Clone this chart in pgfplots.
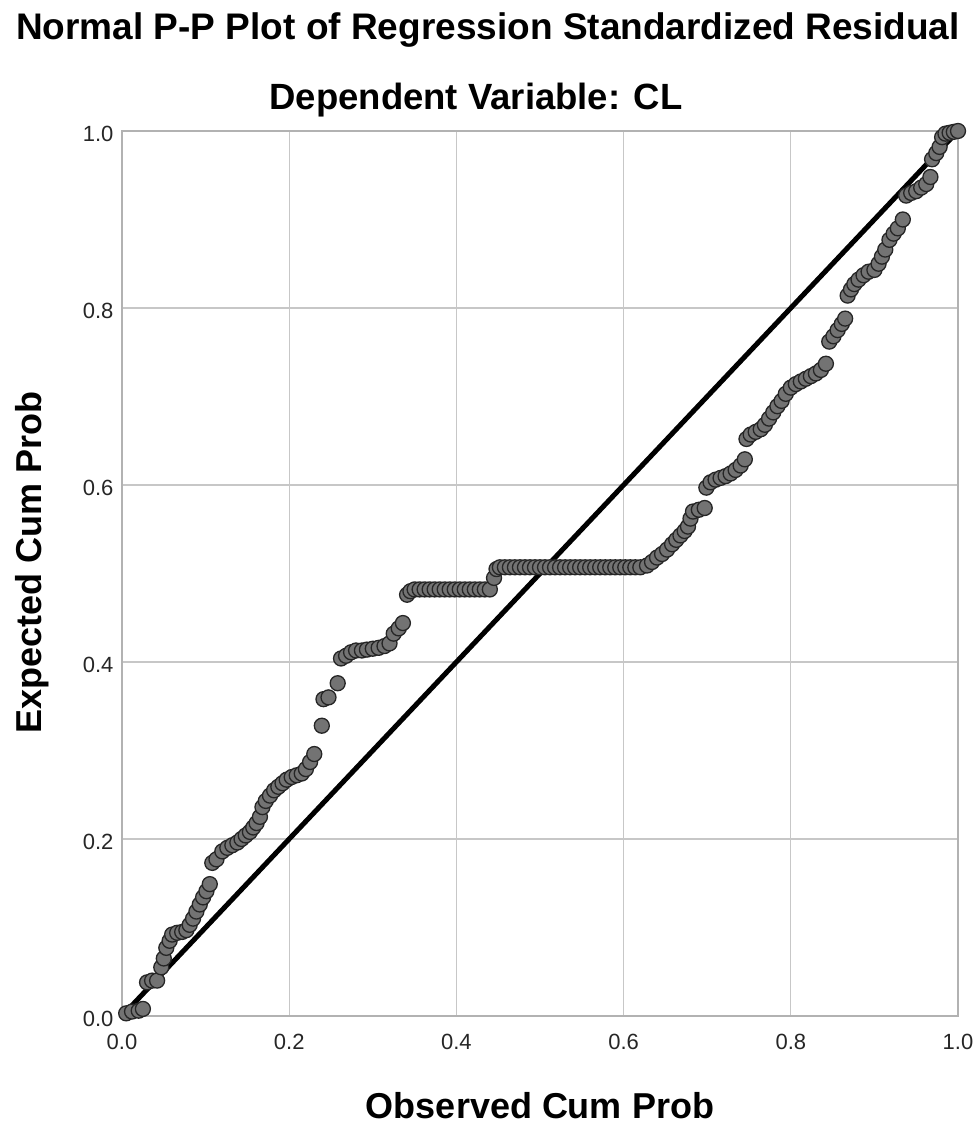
\documentclass[border=0pt]{standalone}
\usepackage{fontspec}
\setmainfont{Liberation Sans}
\usepackage{pgfplots}
\pgfplotsset{compat=1.18}
\begin{document}
\begin{tikzpicture}
\begin{axis}[
  scale only axis, width=836pt, height=885pt,
  xmin=0, xmax=1, ymin=0, ymax=1,
  xtick={0,0.2,0.4,0.6,0.8,1}, ytick={0,0.2,0.4,0.6,0.8,1},
  /pgf/number format/assume math mode=true,
  /pgf/number format/.cd, fixed, fixed zerofill, precision=1, /pgfplots/.cd,
  grid=major, major grid style={draw=black!22, line width=1.3pt},
  axis line style={draw=black!30, line width=1.3pt},
  major tick length=0pt,
  ticklabel style={font=\fontsize{22}{22}\selectfont, text=black!85},
  xticklabel style={anchor=center, yshift=-26pt},
  yticklabel style={xshift=-5pt, yshift=-3pt},
]
\addplot[only marks, mark=*, mark size=7.5pt, mark options={fill=black!55, draw=black!85, line width=1.3pt}] table {
x y
0.005 0.003
0.012 0.005
0.020 0.006
0.025 0.008
0.030 0.038
0.036 0.040
0.042 0.040
0.047 0.055
0.050 0.065
0.053 0.077
0.057 0.085
0.060 0.092
0.066 0.094
0.072 0.095
0.077 0.097
0.081 0.103
0.085 0.110
0.089 0.118
0.093 0.126
0.097 0.134
0.101 0.141
0.105 0.149
0.108 0.173
0.113 0.177
0.120 0.186
0.126 0.190
0.132 0.193
0.138 0.196
0.143 0.200
0.148 0.204
0.153 0.208
0.157 0.213
0.161 0.218
0.165 0.225
0.168 0.236
0.172 0.243
0.177 0.249
0.182 0.255
0.187 0.259
0.192 0.263
0.197 0.267
0.203 0.270
0.209 0.272
0.215 0.274
0.220 0.279
0.225 0.287
0.230 0.296
0.239 0.328
0.241 0.358
0.247 0.360
0.258 0.376
0.262 0.404
0.268 0.407
0.274 0.411
0.280 0.413
0.287 0.413
0.293 0.414
0.300 0.415
0.307 0.416
0.314 0.418
0.320 0.421
0.325 0.432
0.331 0.438
0.336 0.444
0.341 0.476
0.345 0.480
0.350 0.482
0.356 0.482
0.362 0.482
0.368 0.482
0.374 0.482
0.380 0.482
0.386 0.482
0.392 0.482
0.398 0.482
0.404 0.482
0.410 0.482
0.416 0.482
0.422 0.482
0.428 0.482
0.434 0.482
0.440 0.482
0.445 0.495
0.448 0.505
0.452 0.507
0.458 0.507
0.464 0.507
0.470 0.507
0.476 0.507
0.482 0.507
0.488 0.507
0.494 0.507
0.500 0.507
0.506 0.507
0.512 0.507
0.518 0.507
0.524 0.507
0.530 0.507
0.536 0.507
0.542 0.507
0.548 0.507
0.554 0.507
0.560 0.507
0.566 0.507
0.572 0.507
0.578 0.507
0.584 0.507
0.590 0.507
0.596 0.507
0.602 0.507
0.608 0.507
0.614 0.507
0.620 0.507
0.628 0.509
0.634 0.513
0.640 0.518
0.646 0.522
0.652 0.527
0.658 0.533
0.663 0.538
0.668 0.543
0.673 0.548
0.677 0.553
0.680 0.562
0.683 0.570
0.690 0.572
0.697 0.574
0.699 0.597
0.704 0.603
0.710 0.606
0.716 0.608
0.722 0.610
0.728 0.613
0.734 0.617
0.740 0.622
0.745 0.629
0.747 0.652
0.752 0.657
0.758 0.660
0.764 0.663
0.769 0.668
0.774 0.675
0.779 0.682
0.784 0.689
0.789 0.695
0.794 0.703
0.800 0.710
0.806 0.714
0.812 0.717
0.818 0.720
0.824 0.723
0.830 0.726
0.836 0.730
0.842 0.737
0.846 0.762
0.851 0.768
0.856 0.775
0.861 0.782
0.865 0.788
0.868 0.814
0.872 0.821
0.876 0.827
0.881 0.832
0.887 0.837
0.893 0.841
0.900 0.843
0.905 0.850
0.909 0.858
0.913 0.866
0.918 0.877
0.923 0.884
0.928 0.890
0.934 0.900
0.938 0.927
0.944 0.930
0.950 0.932
0.956 0.936
0.962 0.940
0.967 0.948
0.969 0.968
0.974 0.975
0.978 0.982
0.981 0.993
0.985 0.997
0.990 0.998
0.995 0.999
1.000 1.000
};
\addplot[black, line width=5pt] coordinates {(0,0) (1,1)};
\end{axis}
\node[font=\bfseries\fontsize{37}{37}\selectfont, anchor=base] at ([xshift=-52pt, yshift=91pt]current axis.north) {Normal P-P Plot of Regression Standardized Residual};
\node[font=\bfseries\fontsize{36.5}{36.5}\selectfont, anchor=base] at ([xshift=-64pt, yshift=21pt]current axis.north) {Dependent Variable: CL};
\node[font=\bfseries\fontsize{36}{36}\selectfont, anchor=base] at ([yshift=-102pt]current axis.south) {Observed Cum Prob};
\node[font=\bfseries\fontsize{36}{36}\selectfont, rotate=90, anchor=base] at ([xshift=-80pt, yshift=11pt]current axis.west) {Expected Cum Prob};
\pgfresetboundingbox
\path[use as bounding box] ([xshift=-122pt, yshift=-115pt]current axis.south west) rectangle ++(979pt,1131pt);
\end{tikzpicture}
\end{document}
